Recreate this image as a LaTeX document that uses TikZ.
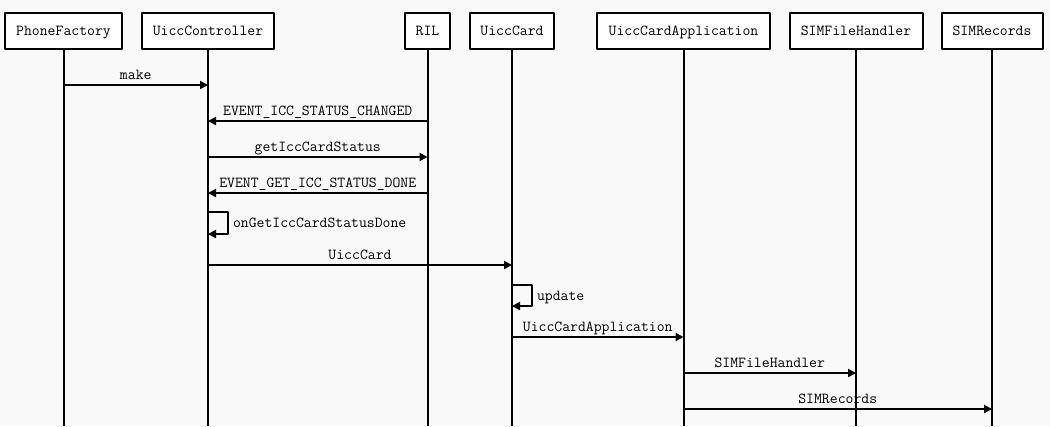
\documentclass[tikz,border=0pt]{standalone}
\usepackage{fontspec}
\usetikzlibrary{arrows.meta,positioning}
\definecolor{paper}{HTML}{F9F9F9}
\tikzset{
  every node/.style={text height=12.3pt, text depth=3pt},
  obj/.style={draw, line width=2pt, fill=white, inner sep=0pt, minimum height=36pt},
  life/.style={line width=2pt},
  msg/.style={line width=2pt, -{Triangle[length=8pt,width=8pt]}},
  lbl/.style={above, inner sep=1pt, yshift=1pt},
}
\begin{document}
\begin{tikzpicture}[x=1pt, y=-1pt, font=\ttfamily\fontsize{15.3}{18}\selectfont, line join=round]
		\fill[paper] (0,0) rectangle (1050,426);
		\useasboundingbox (0,0) rectangle (1050,426);
		% objects
		\node[obj, minimum width=117pt] (pf)  at (63.5,31)  {PhoneFactory};
		\node[obj, minimum width=132pt] (uc)  at (208,31)   {UiccController};
		\node[obj, minimum width=45pt]  (ril) at (427.5,31) {RIL};
		\node[obj, minimum width=84pt]  (card) at (512,31)  {UiccCard};
		\node[obj, minimum width=173pt] (app) at (683.5,31) {UiccCardApplication};
		\node[obj, minimum width=133pt] (fh)  at (856,31)   {SIMFileHandler};
		\node[obj, minimum width=101pt] (rec) at (992,31)   {SIMRecords};
		% lifelines
		\foreach \o in {pf,uc,ril,card,app,fh,rec}{
			\coordinate (\o-end) at (\o |- 0,426);
			\draw[life] (\o.south) -- (\o-end);
		}
		% messages
		\coordinate (m1a) at (pf |- 0,85);   \coordinate (m1b) at (uc |- 0,85);
		\draw[msg] (m1a) -- node[lbl] {make} (m1b);
		\coordinate (m2a) at (ril |- 0,121); \coordinate (m2b) at (uc |- 0,121);
		\draw[msg] (m2a) -- node[lbl] {EVENT\_ICC\_STATUS\_CHANGED} (m2b);
		\coordinate (m3a) at (uc |- 0,157);  \coordinate (m3b) at (ril |- 0,157);
		\draw[msg] (m3a) -- node[lbl] {getIccCardStatus} (m3b);
		\coordinate (m4a) at (ril |- 0,193); \coordinate (m4b) at (uc |- 0,193);
		\draw[msg] (m4a) -- node[lbl] {EVENT\_GET\_ICC\_STATUS\_DONE} (m4b);
		\coordinate (m5a) at (uc |- 0,212);  \coordinate (m5b) at (uc |- 0,234);
		\draw[msg] (m5a) -- ++(20,0) |- node[pos=0.25, right, inner sep=4pt] {onGetIccCardStatusDone} (m5b);
		\coordinate (m6a) at (uc |- 0,265);  \coordinate (m6b) at (card |- 0,265);
		\draw[msg] (m6a) -- node[lbl] {UiccCard} (m6b);
		\coordinate (m7a) at (card |- 0,285); \coordinate (m7b) at (card |- 0,306);
		\draw[msg] (m7a) -- ++(20,0) |- node[pos=0.25, right, inner sep=4pt] {update} (m7b);
		\coordinate (m8a) at (card |- 0,337); \coordinate (m8b) at (app |- 0,337);
		\draw[msg] (m8a) -- node[lbl] {UiccCardApplication} (m8b);
		\coordinate (m9a) at (app |- 0,373); \coordinate (m9b) at (fh |- 0,373);
		\draw[msg] (m9a) -- node[lbl] {SIMFileHandler} (m9b);
		\coordinate (m10a) at (app |- 0,409); \coordinate (m10b) at (rec |- 0,409);
		\draw[msg] (m10a) -- node[lbl] {SIMRecords} (m10b);
\end{tikzpicture}
\end{document}
